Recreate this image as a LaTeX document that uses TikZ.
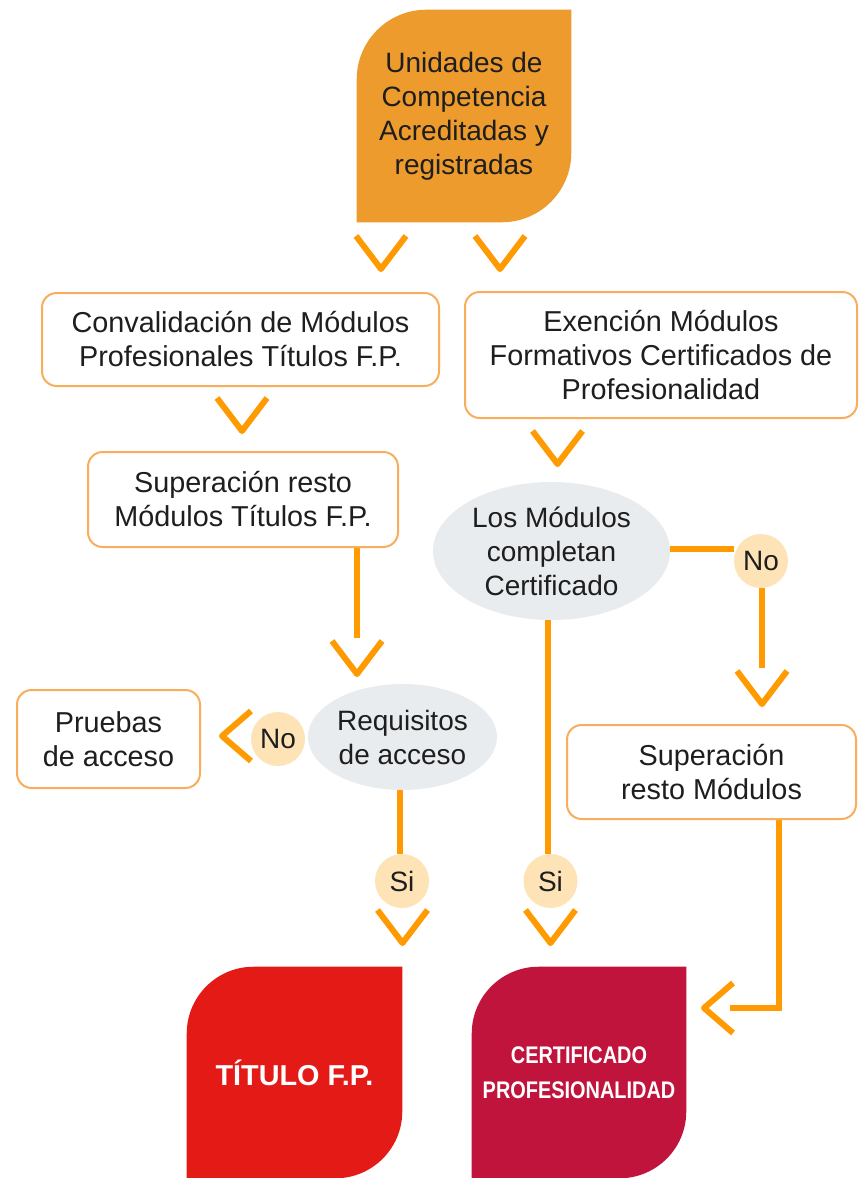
\documentclass[tikz,border=0pt]{standalone}
\usepackage{fontspec}
\setmainfont{Liberation Sans}
\usepackage{graphicx}
\usetikzlibrary{calc,shapes.geometric,backgrounds}
\definecolor{orangeA}{HTML}{EC9B2C}
\definecolor{arrowC}{HTML}{FF9A00}
\definecolor{boxline}{HTML}{F9AE5E}
\definecolor{ellfill}{HTML}{E9ECEF}
\definecolor{circfill}{HTML}{FDE3B6}
\definecolor{redA}{HTML}{E41A17}
\definecolor{crimsonA}{HTML}{C0143C}
\definecolor{txt}{HTML}{1E1E1E}
\newcommand\fs{\fontsize{21}{25.5}\selectfont}
\newcommand\fsb{\fontsize{21.6}{25.5}\selectfont}
\newcommand\leafshape[3]{%
 \fill[#3] (#1.south west) -- ([yshift=-#2]#1.north west)
   .. controls ([yshift={-0.45*#2}]#1.north west) and ([xshift={0.45*#2}]#1.north west) .. ([xshift=#2]#1.north west)
   -- (#1.north east) -- ([yshift=#2]#1.south east)
   .. controls ([yshift={0.45*#2}]#1.south east) and ([xshift={-0.45*#2}]#1.south east) .. ([xshift=-#2]#1.south east)
   -- cycle;}
\tikzset{
  box/.style={draw=boxline, line width=1.5pt, rounded corners=11pt, fill=white, align=center, text=txt, inner sep=0pt, font=\fsb},
  leafnode/.style={inner sep=0pt, align=center},
  ell/.style={ellipse, fill=ellfill, inner sep=0pt, align=center, text=txt, font=\fs},
  yn/.style={circle, fill=circfill, inner sep=0pt, minimum size=40.5pt, text=txt, font=\fs},
  conn/.style={draw=arrowC, line width=4.5pt},
  chev/.style={draw=arrowC, line width=4.5pt, line join=round, line cap=butt},
}
\begin{document}
\begin{tikzpicture}[x=0.75pt,y=-0.75pt]
\useasboundingbox (0,0) rectangle (858,1178);
% leaf nodes
\node[leafnode, minimum width=160.5pt, minimum height=159pt, font=\fs, text=txt] (top) at (464,116)
  {Unidades de\\Competencia\\Acreditadas y\\registradas};
\node[leafnode, minimum width=161.25pt, minimum height=158.25pt, text=white, font=\fontsize{21.6}{25}\selectfont\bfseries] (tit) at (294.5,1072.5)
  {TÍTULO F.P.};
\node[leafnode, minimum width=160.5pt, minimum height=158.25pt, text=white, font=\fontsize{18}{26}\selectfont\bfseries] (cert) at (579,1072.5)
  {\scalebox{0.83}[1]{CERTIFICADO}\\\scalebox{0.83}[1]{PROFESIONALIDAD}};
% boxes
\node[box, minimum width=297.75pt, minimum height=69.75pt] (conv) at (240.5,339.5)
  {Convalidación de Módulos\\Profesionales Títulos F.P.};
\node[box, minimum width=232.5pt, minimum height=71.25pt] (sup1) at (243,499.5)
  {Superación resto\\Módulos Títulos F.P.};
\node[box, minimum width=294pt, minimum height=94.5pt] (exen) at (661,355)
  {Exención Módulos\\Formativos Certificados de\\Profesionalidad};
\node[box, minimum width=137.25pt, minimum height=73.5pt] (prue) at (108.5,739)
  {Pruebas\\de acceso};
\node[box, minimum width=216.75pt, minimum height=70.5pt] (sup2) at (711.5,772)
  {Superación\\resto Módulos};
% ellipses
\node[ell, minimum width=141.75pt, minimum height=79.5pt] (req) at (402.5,737)
  {Requisitos\\de acceso};
\node[ell, minimum width=177.75pt, minimum height=103.5pt] (mod) at (551.5,551)
  {Los Módulos\\completan\\Certificado};
% yes / no circles
\node[yn] (no1) at (278,739) {No};
\node[yn] (no2) at (761,561) {No};
\node[yn] (si1) at (402,881) {Si};
\node[yn] (si2) at (550.5,881) {Si};
% chevron anchor coordinates (top of each chevron)
\coordinate (c1) at (381,233);
\coordinate (c2) at (500,233);
\coordinate (c3) at (242,395);
\coordinate (c4) at (357,638);
\coordinate (c5) at (557.5,428);
\coordinate (c6) at (762,668);
\coordinate (c7) at (402.5,907);
\coordinate (c8) at (550.5,907);
\coordinate (l1) at (253,736);
\coordinate (l2) at (735,1008);
\coordinate (bend) at (779,1008);
\begin{pgfonlayer}{background}
  \fill[white] (0,0) rectangle (858,1178);
  \leafshape{top}{52pt}{orangeA}
  \leafshape{tit}{50pt}{redA}
  \leafshape{cert}{50pt}{crimsonA}
  % connectors (behind boxes and circles)
  \draw[conn] (sup1.south -| c4) -- (c4);
  \draw[conn] (req.south -| 400,0) -- (si1.north -| 400,0);
  \draw[conn] (mod.south -| 548,0) -- (si2.north -| 548,0);
  \draw[conn] ([yshift=1.5pt]mod.east) -- ([yshift=1.5pt]mod.east -| no2.west);
  \draw[conn] (no2.south -| c6) -- (c6);
  \draw[conn] (sup2.south -| bend) -- (bend) -- ([xshift=-4pt]l2);
\end{pgfonlayer}
% chevrons down
\foreach \c in {c1,c2,c3,c4,c5,c6,c7,c8}{
  \draw[chev] ($(\c)+(-25,3)$) -- ($(\c)+(0,36)$) -- ($(\c)+(25,3)$);
}
% chevrons left
\foreach \c in {l1,l2}{
  \draw[chev] ($(\c)+(-2,-25)$) -- ($(\c)+(-31,0)$) -- ($(\c)+(-2,25)$);
}
\end{tikzpicture}
\end{document}
